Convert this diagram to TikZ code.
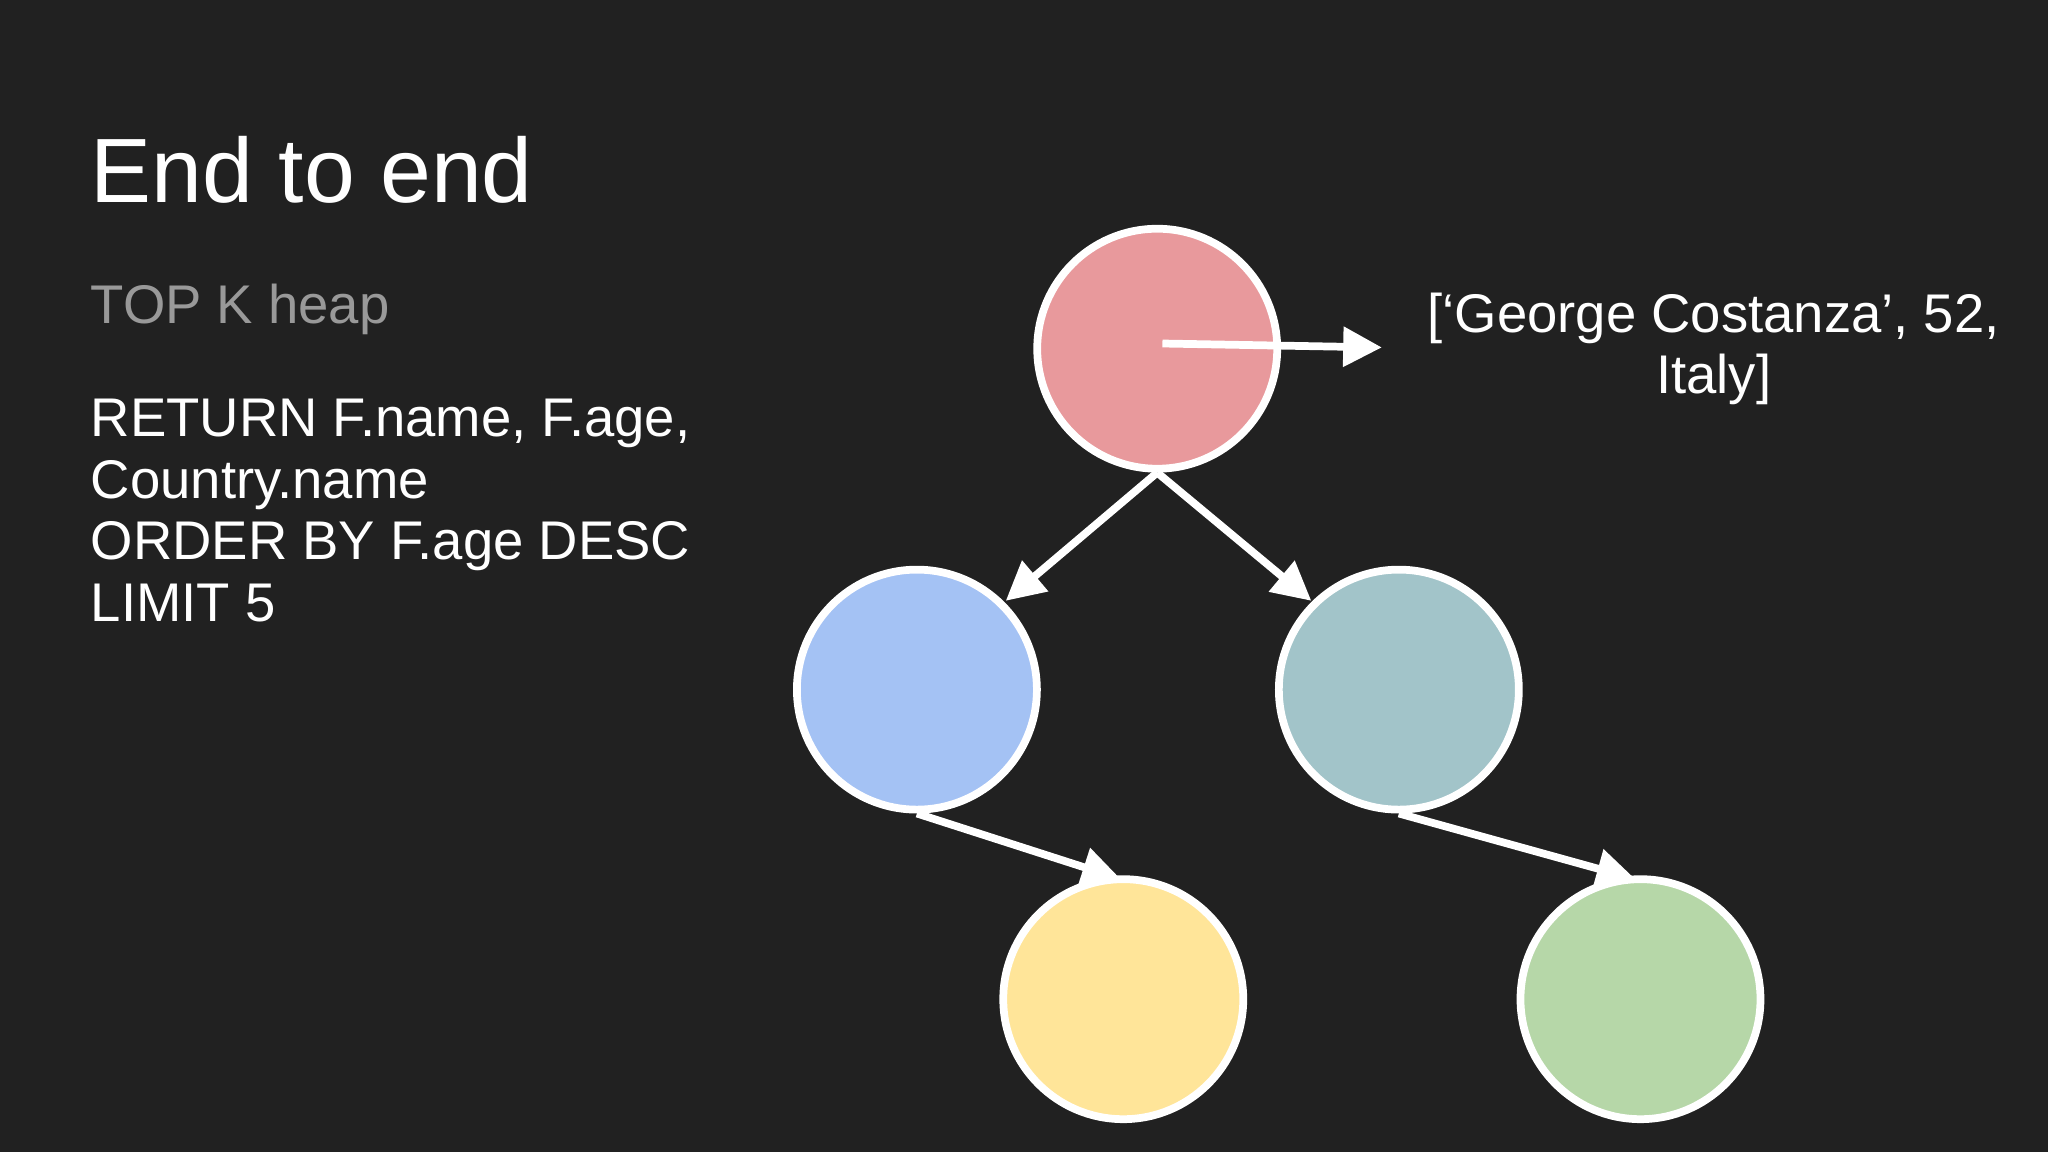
\documentclass[tikz,border=0pt]{standalone}
\usepackage{fontspec}
\setmainfont{Liberation Sans}
\usetikzlibrary{arrows.meta}
\definecolor{bg}{HTML}{212121}
\definecolor{cred}{HTML}{E8999C}
\definecolor{cblue}{HTML}{A4C2F4}
\definecolor{cteal}{HTML}{A2C4C9}
\definecolor{cyellow}{HTML}{FFE599}
\definecolor{cgreen}{HTML}{B6D7A8}
\begin{document}
\begin{tikzpicture}[x=0.01306cm,y=-0.01306cm,
  ball/.style={circle,draw=white,line width=2.2pt,minimum size=2.4cm,inner sep=0pt},
  conn/.style={draw=white,line width=2.2pt,-{Triangle[length=11pt,width=11pt,fill=white]}},
  txt/.style={text=white,anchor=west,inner sep=0pt,font=\fontsize{15.5}{17.5}\selectfont}]
\fill[bg] (0,0) rectangle (1568,882);
\useasboundingbox (0,0) rectangle (1568,882);
\node[text=white,anchor=west,inner sep=0pt,font=\fontsize{26}{30}\selectfont] (title) at (69,130) {End to end};
\node[txt,text=gray!80] (topk) at (69,237) {TOP K heap};
\node[txt,anchor=north west,align=left] (q) at (69,305) {RETURN F.name, F.age,\\Country.name\\ORDER BY F.age DESC\\LIMIT 5};
\node[txt,anchor=center,align=center] (lbl) at (1312,267) {[‘George Costanza’, 52,\\Italy]};
\node[ball,fill=cred] (r) at (886,267) {};
\node[ball,fill=cblue] (b) at (702,528) {};
\node[ball,fill=cteal] (t) at (1071,528) {};
\node[ball,fill=cyellow] (y) at (860,765) {};
\node[ball,fill=cgreen] (g) at (1256,765) {};
\coordinate (rc) at (890,263);
\coordinate (re) at (1058,266);
\draw[conn] (rc) -- (re);
\draw[conn] (r.south) -- (770,460);
\draw[conn] (r.south) -- (1004,460);
\draw[conn] (b.south) -- (858,673);
\draw[conn] (t.south) -- (1252,673);
\end{tikzpicture}
\end{document}
